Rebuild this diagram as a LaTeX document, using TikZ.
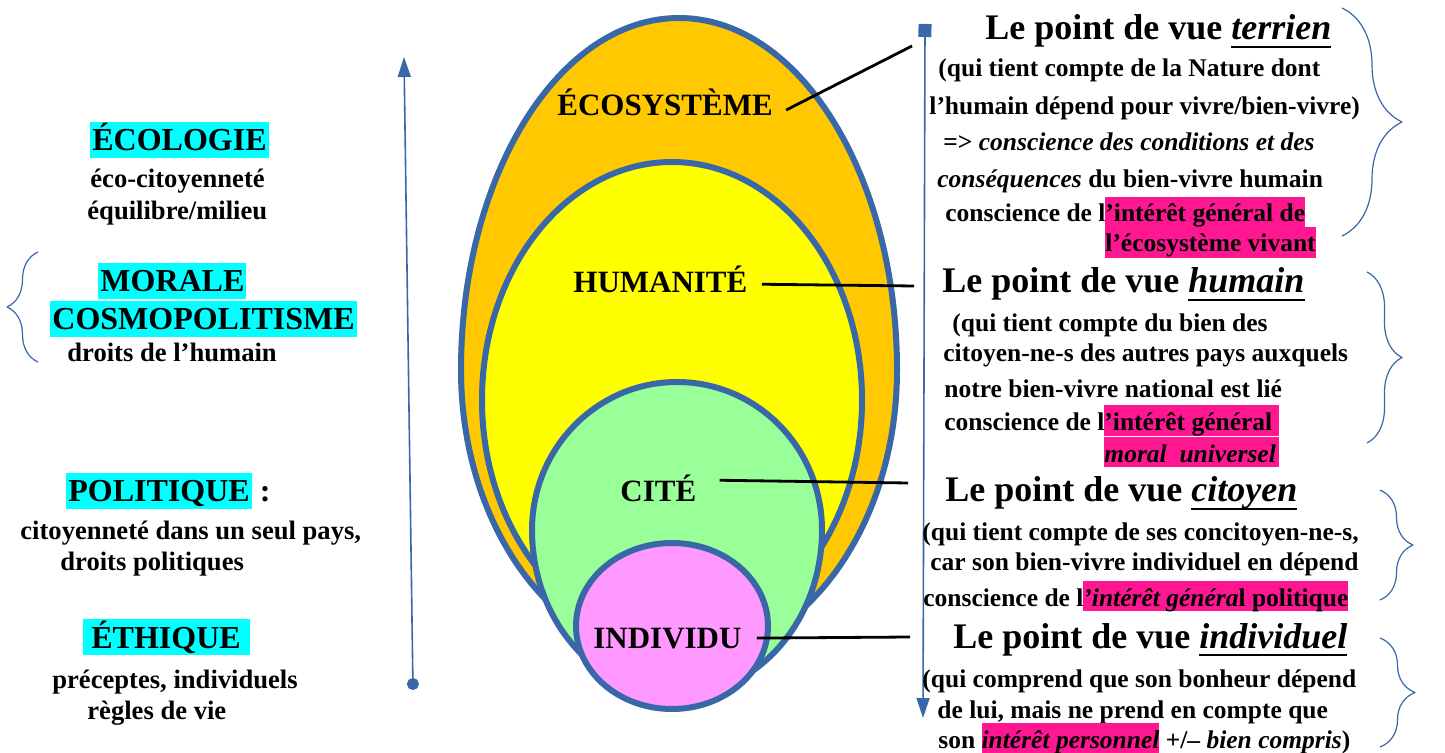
\documentclass[tikz,border=0pt]{standalone}
\usepackage{fontspec}
\setmainfont{Liberation Serif}
\usetikzlibrary{arrows.meta,decorations.pathreplacing}
\definecolor{bleu}{RGB}{56,104,168}
\definecolor{orangeeco}{RGB}{255,200,0}
\definecolor{jaune}{RGB}{255,255,0}
\definecolor{vert}{RGB}{153,255,153}
\definecolor{rose}{RGB}{255,153,255}
\definecolor{cyanvif}{RGB}{0,255,255}
\definecolor{rosevif}{RGB}{255,22,145}
\newcommand\souligne[1]{\setbox0\hbox{#1}\rlap{\rule[-4pt]{\wd0}{1.2pt}}\box0}
\newcommand\surlc[1]{{\setlength\fboxsep{0pt}\colorbox{cyanvif}{\rule[-3.5pt]{0pt}{18pt}\kern1pt#1\kern1pt}}}
\newcommand\surlr[1]{{\setlength\fboxsep{0pt}\colorbox{rosevif}{\rule[-2.5pt]{0pt}{15pt}#1}}}
\begin{document}
\begin{tikzpicture}[x=.5pt,y=-.5pt,line join=round, % cercles du point de vue
        bord/.style={draw=bleu,line width=3pt},
        axe/.style={draw=bleu,line width=.8pt},
        acc/.style={draw=bleu,line width=.6pt,decorate,decoration={brace,amplitude=#1}},
        conn/.style={line width=1.4pt},
        lbl/.style={anchor=base west,inner sep=0pt,font=\bfseries\fontsize{15.5}{18}\selectfont},
        lhead/.style={anchor=base west,inner sep=0pt,font=\bfseries\fontsize{16}{19}\selectfont},
        ltxt/.style={anchor=base west,inner sep=0pt,font=\bfseries\fontsize{13.3}{16}\selectfont},
        rhead/.style={anchor=base west,inner sep=0pt,font=\bfseries\fontsize{18}{21}\selectfont},
        rtxt/.style={anchor=base west,inner sep=0pt,font=\bfseries\fontsize{12.75}{15}\selectfont}]
        \useasboundingbox (0,0) rectangle (1445,753);
        % les quatre cercles
        \filldraw[bord,fill=orangeeco](461,370) arc[start angle=180,end angle=360,x radius=218,y radius=352]
                arc[start angle=0,end angle=180,x radius=218,y radius=290]--cycle;
        \filldraw[bord,fill=jaune](672,400) ellipse [x radius=190,y radius=238];
        \filldraw[bord,fill=vert](532,530) arc[start angle=180,end angle=360,x radius=145,y radius=148]
                arc[start angle=0,end angle=180,x radius=145,y radius=165]--cycle;
        \filldraw[bord,fill=rose](672,626) ellipse [x radius=96,y radius=83];
        \node[lbl] (eco) at (557,116) {ÉCOSYSTÈME};
        \node[lbl] (hum) at (573,293) {HUMANITÉ};
        \node[lbl] (cite) at (620,502) {CITÉ};
        \node[lbl] (indiv) at (593,648) {INDIVIDU};
        % axes
        \coordinate (bas) at (413,690);
        \coordinate (haut) at (404,57);
        \coordinate (carre) at (925,24);
        \coordinate (fleche) at (923,718);
        \draw[axe,{Circle[length=6pt]}-{Triangle[length=10pt,width=6.5pt]}] (bas)--(haut);
        \draw[axe,{Square[length=6.5pt,width=6.5pt]}-{Triangle[length=10pt,width=6.5pt]}] (carre)--(fleche);
        % traits vers les points de vue
        \coordinate (pEco) at (912,46);
        \coordinate (pHum) at (914,286);
        \coordinate (pCite) at (908,483);
        \coordinate (pIndiv) at (910,637);
        \draw[conn] ([xshift=6.5pt,yshift=-3.6pt]eco.east)--(pEco);
        \draw[conn] ([xshift=7pt,yshift=-2.2pt]hum.east)--(pHum);
        \draw[conn] ([xshift=11.5pt,yshift=4.3pt]cite.east)--(pCite);
        \draw[conn] ([xshift=7.5pt]indiv.east)--(pIndiv);
        % colonne de gauche
        \node[lhead] (ecol) at (90,151) {\surlc{ÉCOLOGIE}};
        \node[ltxt] (ecolA) at (90,188) {éco-citoyenneté};
        \node[ltxt] (ecolB) at (87,220) {équilibre/milieu};
        \node[lhead] (mor) at (98,292) {\surlc{MORALE}};
        \node[lhead] (cosmo) at (50,330) {\surlc{COSMOPOLITISME}};
        \node[ltxt] (morA) at (67,362) {droits de l’humain};
        \node[lhead] (pol) at (66,502) {\surlc{POLITIQUE} :};
        \node[ltxt] (polA) at (20,539) {citoyenneté dans un seul pays,};
        \node[ltxt] (polB) at (60,570) {droits politiques};
        \node[lhead] (eth) at (83,648) {\surlc{\kern3pt ÉTHIQUE\kern3.5pt}};
        \node[ltxt] (ethA) at (52,688) {préceptes, individuels};
        \node[ltxt] (ethB) at (87,719) {règles de vie};
        \draw[acc=15.5pt] (38,362)--(38,252);
        % colonne de droite
        \node[rhead] (terr) at (985,40) {Le point de vue \souligne{\textit{terrien}}};
        \node[rtxt] (terrA) at (938,77) {(qui tient compte de la Nature dont};
        \node[rtxt] (terrB) at (929,115) {l’humain dépend pour vivre/bien-vivre)};
        \node[rtxt] (terrC) at (943,151) {=> \textit{conscience des conditions et des}};
        \node[rtxt] (terrD) at (937,188) {\textit{conséquences} du bien-vivre humain};
        \node[rtxt] (terrE) at (945,222) {conscience de l\surlr{’intérêt général de}};
        \node[rtxt] (terrF) at (1105,252) {\surlr{l’écosystème vivant}};
        \node[rhead] (huma) at (942,293) {Le point de vue \souligne{\textit{humain}}};
        \node[rtxt] (humaA) at (952,332) {(qui tient compte du bien des};
        \node[rtxt] (humaB) at (943,362) {citoyen-ne-s des autres pays auxquels};
        \node[rtxt] (humaC) at (944,398) {notre bien-vivre national est lié};
        \node[rtxt] (humaD) at (944,430) {conscience de l\surlr{\makebox[87.5pt][l]{’intérêt général}}};
        \node[rtxt] (humaE) at (1104,462) {\surlr{\makebox[87.5pt][l]{\textit{moral\ \ universel}}}};
        \node[rhead] (cito) at (945,502) {Le point de vue \souligne{\textit{citoyen}}};
        \node[rtxt] (citoA) at (922,540) {(qui tient compte de ses concitoyen-ne-s,};
        \node[rtxt] (citoB) at (930,570) {car son bien-vivre individuel en dépend};
        \node[rtxt] (citoC) at (923,606) {conscience de l\surlr{\textit{’intérêt généra}l politique}};
        \node[rhead] (indi) at (953,648) {Le point de vue \souligne{\textit{individuel}}};
        \node[rtxt] (indiA) at (922,687) {(qui comprend que son bonheur dépend};
        \node[rtxt] (indiB) at (937,718) {de lui, mais ne prend en compte que};
        \node[rtxt] (indiC) at (938,748) {son \surlr{\textit{intérêt personnel}} +/– \textit{bien compris})};
        \draw[acc=30pt] (1342,8)--(1342,236);
        \draw[acc=17.5pt] (1367,272)--(1367,443);
        \draw[acc=16.5pt] (1380,490)--(1380,600);
        \draw[acc=17.5pt] (1380,638)--(1380,747);
\end{tikzpicture}
\end{document}
